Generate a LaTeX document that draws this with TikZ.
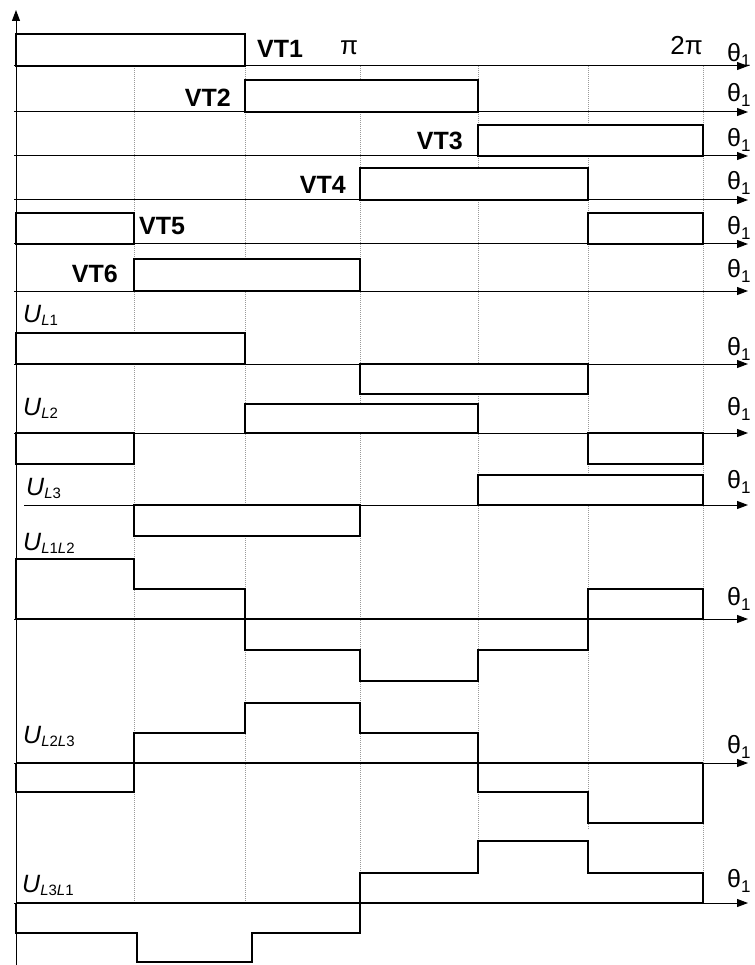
\documentclass[tikz,border=0pt]{standalone}
\usepackage{fontspec}
\setmainfont{Liberation Sans}
\usetikzlibrary{arrows.meta}
\newcommand{\thone}{θ\raisebox{-5pt}{\fontsize{17}{17}\selectfont 1}}
\newcommand{\ulab}[1]{U\raisebox{-3.5pt}{\fontsize{15}{15}\selectfont #1}}
\begin{document}
\begin{tikzpicture}[x=1pt,y=-1pt,
  axis/.style={line width=1pt, -{Triangle[length=11pt,width=8pt]}},
  boxline/.style={line width=2pt, line join=miter, fill=white},
  wave/.style={line width=2pt, line join=miter},
  gridline/.style={gray!80, line width=0.8pt, dash pattern=on 1pt off 1pt},
  vt/.style={inner sep=0pt, font=\fontsize{25}{25}\selectfont\bfseries},
  th/.style={inner sep=0pt, anchor=base west, font=\fontsize{25}{25}\selectfont},
  ul/.style={inner sep=0pt, anchor=base west, font=\fontsize{25}{25}\selectfont\itshape},
  pil/.style={inner sep=0pt, font=\fontsize{26}{26}\selectfont},
]
\useasboundingbox (0,0) rectangle (754,965);

% dotted grid
\draw[gridline] (134,66) -- (134,903);
\draw[gridline] (245,66) -- (245,903);
\draw[gridline] (360,66) -- (360,873);
\draw[gridline] (478,66) -- (478,841);
\draw[gridline] (588,66) -- (588,830);
\draw[gridline] (703,66) -- (703,873);

% vertical axis
\coordinate (yb) at (16,965);
\coordinate (yt) at (16,10);
\draw[axis] (yb) -- (yt);

% horizontal axes
\foreach \yy in {66,112,156,200,244,291,364,433,619,763,903}
  \draw[axis] (14,\yy) -- (748,\yy);
\draw[axis] (24,505) -- (748,505);

% VT boxes
\draw[boxline] (16,34) rectangle (245,66);
\draw[boxline] (245,80) rectangle (478,112);
\draw[boxline] (478,125) rectangle (703,156);
\draw[boxline] (360,168) rectangle (588,200);
\draw[boxline] (16,213) rectangle (134,244);
\draw[boxline] (588,213) rectangle (703,244);
\draw[boxline] (134,259) rectangle (360,291);

% phase voltages
\draw[boxline] (16,333) rectangle (245,364);
\draw[boxline] (360,364) rectangle (588,394);
\draw[boxline] (245,404) rectangle (478,433);
\draw[boxline] (16,433) rectangle (134,464);
\draw[boxline] (588,433) rectangle (703,464);
\draw[boxline] (478,475) rectangle (703,505);
\draw[boxline] (134,505) rectangle (360,536);

% line voltages
\draw[wave] (16,619) -- (703,619);
\draw[wave] (16,619) -- (16,559) -- (134,559) -- (134,589) -- (245,589) -- (245,650) -- (360,650) -- (360,681) -- (478,681) -- (478,650) -- (588,650) -- (588,589) -- (703,589) -- (703,619);
\draw[wave] (16,763) -- (703,763);
\draw[wave] (16,763) -- (16,792) -- (134,792) -- (134,733) -- (245,733) -- (245,703) -- (360,703) -- (360,733) -- (478,733) -- (478,792) -- (588,792) -- (588,823) -- (703,823) -- (703,763);
\draw[wave] (16,903) -- (703,903);
\draw[wave] (16,903) -- (16,933) -- (137,933) -- (137,962) -- (252,962) -- (252,933) -- (360,933) -- (360,873) -- (478,873) -- (478,841) -- (588,841) -- (588,873) -- (703,873) -- (703,903);

% VT labels
\node[vt, anchor=base west] (vt1) at (257,58) {VT1};
\node[vt, anchor=base east] (vt2) at (231,107) {VT2};
\node[vt, anchor=base east] (vt3) at (463,150) {VT3};
\node[vt, anchor=base east] (vt4) at (346,194) {VT4};
\node[vt, anchor=base west] (vt5) at (139,235) {VT5};
\node[vt, anchor=base east] (vt6) at (118,283) {VT6};

\node[pil, anchor=base] (pi) at (349,55) {π};
\node[pil, anchor=base east] (twopi) at (703,55) {2π};

% theta labels
\node[th] (t1) at (727,62) {\thone};
\node[th] (t2) at (727,102) {\thone};
\node[th] (t3) at (727,147) {\thone};
\node[th] (t4) at (727,190) {\thone};
\node[th] (t5) at (727,235) {\thone};
\node[th] (t6) at (727,278) {\thone};
\node[th] (t7) at (727,355) {\thone};
\node[th] (t8) at (727,415) {\thone};
\node[th] (t9) at (727,488) {\thone};
\node[th] (t10) at (727,605) {\thone};
\node[th] (t11) at (727,753) {\thone};
\node[th] (t12) at (727,887) {\thone};

% U labels
\node[ul] (u1) at (23,322) {\ulab{L\textup{1}}};
\node[ul] (u2) at (23,415) {\ulab{L\textup{2}}};
\node[ul] (u3) at (26,495) {\ulab{L\textup{3}}};
\node[ul] (u12) at (23,550) {\ulab{L\textup{1}L\textup{2}}};
\node[ul] (u23) at (23,743) {\ulab{L\textup{2}L\textup{3}}};
\node[ul] (u31) at (22,892) {\ulab{L\textup{3}L\textup{1}}};
\end{tikzpicture}
\end{document}
